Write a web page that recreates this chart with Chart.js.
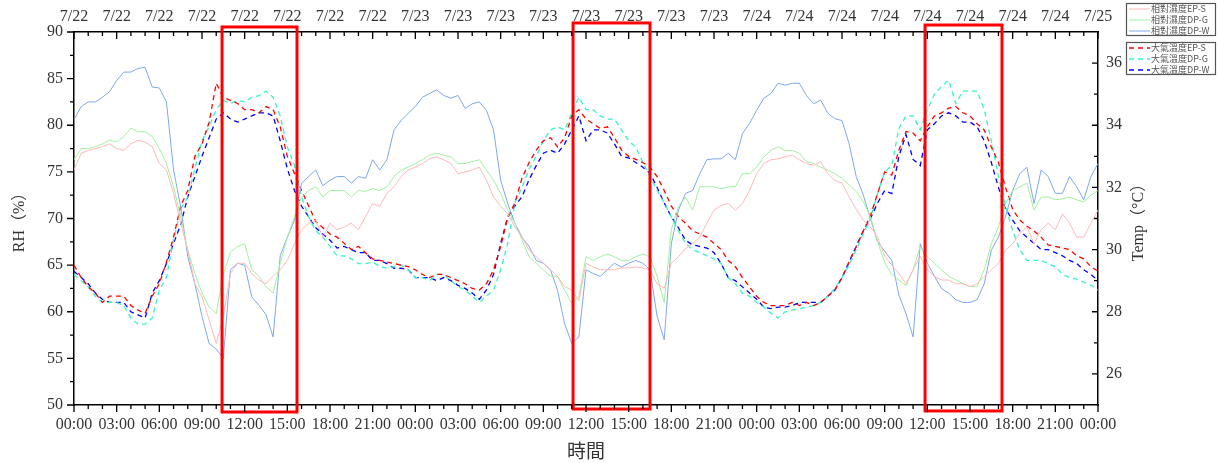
<!DOCTYPE html>
<html>
<head>
<meta charset="utf-8">
<title>RH / Temp</title>
<script src="https://cdn.jsdelivr.net/npm/chart.js@4.4.1/dist/chart.umd.min.js"></script>
<style>
  html, body { margin: 0; padding: 0; background: #fff; }
</style>
</head>
<body>
<canvas id="chart" width="1219" height="463"></canvas>
<script>
// hours since 7/22 00:00, one reading every 30 minutes
const hours = [];
for (let i = 0; i <= 144; i++) hours.push(i / 2);

const dateLabels = ["7/22","7/22","7/22","7/22","7/22","7/22","7/22","7/22",
  "7/23","7/23","7/23","7/23","7/23","7/23","7/23","7/23",
  "7/24","7/24","7/24","7/24","7/24","7/24","7/24","7/24","7/25"];
const timeLabels = ["00:00","03:00","06:00","09:00","12:00","15:00","18:00","21:00",
  "00:00","03:00","06:00","09:00","12:00","15:00","18:00","21:00",
  "00:00","03:00","06:00","09:00","12:00","15:00","18:00","21:00","00:00"];
const tempTicks = [26, 28, 30, 32, 34, 36];

// relative humidity (%)
const rhEPS = [75.2,77.0,77.3,77.5,77.7,78.0,77.5,77.3,78.0,78.4,78.2,77.7,75.9,75.2,72.7,69.5,66.6,63.0,61.6,59.1,56.6,59.5,64.1,65.2,65.2,64.1,63.4,63.0,63.8,64.5,65.5,67.3,68.8,69.5,69.8,68.0,69.5,68.8,
  69.1,69.5,68.8,70.2,71.6,71.3,72.7,73.4,74.5,75.2,75.5,75.9,76.4,76.6,76.3,75.9,74.8,75.0,75.2,75.5,74.1,72.3,71.3,70.5,69.1,68.0,66.6,65.9,65.2,64.5,63.8,62.7,62.3,61.2,65.2,
  64.8,64.5,64.5,64.5,64.7,64.7,64.8,64.7,64.5,63.0,62.5,65.2,65.9,66.8,67.3,68.0,69.5,70.9,71.4,71.6,70.9,71.6,73.0,74.8,75.9,76.3,76.4,76.6,76.8,76.3,75.9,75.7,76.1,74.8,74.1,
  73.8,72.3,71.0,69.8,69.1,68.0,66.0,65.0,64.1,63.0,64.5,
  65.9,64.5,63.8,63.4,63.4,63.0,63.0,62.7,63.0,63.8,64.5,65.2,66.6,67.3,68.4,69.1,67.3,68.8,69.5,68.8,70.5,69.5,68.0,68.0,69.5,70.9];
const rhDPG = [76.3,77.5,77.5,77.7,78.0,78.4,78.2,78.8,79.7,79.3,79.3,78.8,77.5,75.9,73.4,70.2,66.6,64.1,62.0,60.5,59.8,64.0,66.4,67.0,67.3,64.5,63.8,62.7,62.0,65.2,68.0,70.2,72.3,73.0,73.4,72.3,73.0,73.0,
  73.0,72.3,73.0,72.9,73.2,73.0,73.4,74.5,75.2,75.5,75.9,76.3,76.8,77.0,76.8,76.6,75.9,75.9,76.1,76.3,75.2,74.1,72.7,70.9,69.5,67.7,65.9,65.2,64.5,63.8,63.8,62.3,60.9,61.6,65.9,
  65.5,65.9,66.2,65.9,65.5,65.5,65.9,66.2,65.9,63.8,61.0,68.8,71.3,72.3,70.9,73.4,73.4,73.4,73.2,73.4,73.4,74.8,74.8,75.5,76.6,77.3,77.7,77.3,77.3,77.0,76.1,75.9,75.5,75.2,74.8,
  74.3,73.6,72.9,71.8,70.2,67.5,65.3,64.0,63.4,62.8,64.5,
  67.0,65.9,65.2,64.5,63.8,63.4,63.0,62.7,62.7,64.5,67.3,69.1,71.6,73.0,73.4,73.8,70.9,72.3,72.3,72.0,72.1,72.3,72.0,71.8,72.5,73.0];
const rhDPW = [80.6,82.0,82.5,82.5,83.0,83.6,84.8,85.7,85.7,86.1,86.2,84.1,84.0,82.5,75.2,71.3,65.9,63.0,59.5,56.6,56.0,55.0,64.5,65.2,65.0,61.6,60.7,59.7,57.3,66.0,68.0,69.8,73.8,74.5,75.2,73.5,74.1,74.5,
  74.5,73.8,74.5,74.3,76.3,75.2,76.3,79.5,80.5,81.3,82.0,83.0,83.4,83.8,83.2,82.9,83.2,81.8,82.3,82.5,81.6,79.5,74.1,71.6,69.5,68.0,67.0,65.5,65.2,64.5,62.3,58.7,56.6,57.3,64.5,
  64.1,63.8,64.5,65.2,64.8,65.2,65.5,65.2,64.5,59.5,57.0,67.3,70.9,72.7,73.0,74.8,76.3,76.4,76.4,77.0,76.3,79.1,80.2,81.6,82.9,83.4,84.5,84.3,84.5,84.5,83.2,82.3,82.7,81.3,80.7,
  80.5,78.0,74.5,72.5,70.0,67.5,66.5,65.5,61.8,59.8,57.3,
  67.3,65.2,63.8,62.5,62.0,61.3,61.0,61.0,61.3,63.0,66.6,68.0,70.2,73.0,74.8,75.5,71.6,75.2,74.5,72.7,72.7,74.5,73.4,72.0,74.5,75.9];

// air temperature (°C)
const tEPS = [29.5,29.1,28.8,28.6,28.3,28.5,28.5,28.5,28.2,28.05,27.95,28.5,28.9,29.6,30.4,31.4,31.9,33.0,33.4,34.1,35.35,34.9,34.8,34.7,34.5,34.5,34.4,34.6,34.5,33.95,33.0,32.45,31.9,31.4,30.9,30.7,30.5,30.4,
  30.2,30.0,30.1,29.9,29.7,29.65,29.6,29.55,29.5,29.45,29.35,29.2,29.1,29.2,29.2,29.1,29.0,28.9,28.75,28.7,28.9,29.35,30.1,31.05,31.5,32.3,32.8,33.2,33.5,33.6,33.3,33.6,34.3,34.5,34.2,
  34.05,33.9,33.95,33.6,33.2,33.0,32.9,32.8,32.65,32.35,31.9,31.4,31.05,30.85,30.6,30.5,30.4,30.2,30.0,29.65,29.45,29.1,28.8,28.5,28.3,28.2,28.2,28.2,28.3,28.2,28.3,28.2,28.3,28.5,28.7,
  29.1,29.6,30.1,30.6,31.1,31.8,32.5,32.4,33.2,33.8,33.75,
  33.5,33.95,34.3,34.4,34.55,34.6,34.4,34.3,34.05,33.85,33.3,32.8,32.0,31.3,30.95,30.75,30.6,30.4,30.15,30.1,30.05,30.0,29.8,29.7,29.45,29.3];
const tDPG = [29.2,29.0,28.8,28.5,28.3,28.3,28.3,28.2,27.8,27.6,27.6,27.8,28.7,29.1,30.3,31.3,31.7,32.6,33.5,33.95,34.5,34.8,34.7,34.8,34.75,34.9,34.95,35.1,34.9,34.3,33.3,32.7,31.7,31.05,30.6,30.4,30.1,29.8,
  29.8,29.7,29.55,29.55,29.6,29.45,29.4,29.45,29.5,29.35,29.1,29.1,29.0,29.2,29.2,29.0,28.8,28.7,28.5,28.3,28.5,28.7,29.35,30.2,31.5,32.0,32.6,33.0,33.5,33.85,33.95,33.85,34.4,34.9,34.5,
  34.5,34.3,34.2,34.2,33.85,33.5,33.3,32.8,32.35,31.9,31.5,31.05,30.6,30.2,30.0,29.9,29.8,29.7,29.55,29.1,28.9,28.6,28.5,28.3,28.15,27.95,27.8,28.0,28.05,28.1,28.15,28.2,28.3,28.5,28.75,
  29.1,29.5,30.0,30.5,31.0,31.8,32.5,32.7,33.9,34.3,34.3,
  33.85,34.5,35.0,35.25,35.45,34.7,35.1,35.1,35.1,34.5,33.5,32.35,31.4,30.6,30.0,29.65,29.65,29.65,29.55,29.45,29.2,29.1,29.05,28.95,28.85,28.7];
const tDPW = [29.3,29.1,28.9,28.6,28.4,28.3,28.3,28.3,28.0,27.9,27.8,28.6,29.0,29.55,30.2,30.8,31.7,32.35,33.0,33.6,34.2,34.4,34.2,34.1,34.2,34.3,34.4,34.4,34.3,33.5,32.6,31.9,31.4,31.05,30.7,30.5,30.3,30.05,
  30.1,30.0,29.9,29.9,29.65,29.65,29.55,29.4,29.4,29.35,29.1,29.1,29.1,29.0,29.1,29.0,28.85,28.75,28.6,28.4,28.7,29.2,30.2,31.05,31.4,31.7,32.25,32.7,33.1,33.2,33.1,33.4,33.85,34.3,33.5,
  33.85,33.85,33.75,33.4,33.0,32.95,32.8,32.65,32.45,32.0,31.5,31.05,30.7,30.3,30.15,30.1,30.05,29.9,29.55,29.1,29.0,28.8,28.6,28.4,28.15,28.1,28.15,28.15,28.2,28.3,28.3,28.3,28.3,28.5,28.7,
  29.1,29.6,30.1,30.6,31.0,31.5,31.9,31.8,33.0,33.7,32.9,
  32.7,33.85,34.05,34.3,34.4,34.3,34.1,34.1,33.95,33.5,32.8,32.0,31.3,30.95,30.6,30.4,30.2,30.0,30.0,29.9,29.8,29.65,29.55,29.35,29.2,29.0];

// highlighted periods (hours, RH units)
const boxStart = [10.41, 35.09, 59.84];
const boxEnd = [15.68, 40.5, 65.25];
const boxTop = [90.54, 90.97, 90.75];
const boxBottom = [49.25, 49.57, 49.36];

const serif = "'Liberation Serif', 'Noto Sans CJK TC', serif";
const cjk = "'Noto Sans CJK TC', sans-serif";

function pairs(values) {
  return hours.map((h, i) => ({x: h, y: values[i]}));
}

// tick marks: bottom/left point out, top/right point in
const axisTicks = {
  id: 'axisTicks',
  afterDraw(chart) {
    const ctx = chart.ctx;
    const {x, x2, y, y2} = chart.scales;
    ctx.save();
    ctx.strokeStyle = '#000';
    ctx.lineWidth = 1.3;
    ctx.beginPath();
    for (let h = 0; h <= 72; h++) {
      const px = x.getPixelForValue(h);
      const len = h % 3 === 0 ? 7 : 4;
      ctx.moveTo(px, x.top); ctx.lineTo(px, x.top + len);
      ctx.moveTo(px, x2.bottom); ctx.lineTo(px, x2.bottom + len);
    }
    for (let v = 50; v <= 90; v += 2.5) {
      const py = y.getPixelForValue(v);
      const len = v % 5 === 0 ? 7 : 4;
      ctx.moveTo(y.right, py); ctx.lineTo(y.right - len, py);
    }
    for (let v = 26; v <= 36; v++) {
      const py = y2.getPixelForValue(v);
      const len = v % 2 === 0 ? 6 : 4;
      ctx.moveTo(y2.left, py); ctx.lineTo(y2.left - len, py);
    }
    ctx.stroke();

    // right axis title, reading bottom to top
    ctx.fillStyle = '#333';
    ctx.font = '16px ' + serif;
    ctx.textAlign = 'center';
    ctx.textBaseline = 'middle';
    ctx.translate(1139, (y2.top + y2.bottom) / 2);
    ctx.rotate(-Math.PI / 2);
    ctx.fillText('Temp（°C）', 0, 0);
    ctx.restore();
  }
};

const redBoxes = {
  id: 'redBoxes',
  afterDatasetsDraw(chart) {
    const ctx = chart.ctx;
    const {x, y} = chart.scales;
    ctx.save();
    ctx.strokeStyle = '#ff0000';
    ctx.lineWidth = 3;
    boxStart.forEach((s, i) => {
      const left = x.getPixelForValue(s);
      const right = x.getPixelForValue(boxEnd[i]);
      const top = y.getPixelForValue(boxTop[i]);
      const bottom = y.getPixelForValue(boxBottom[i]);
      ctx.strokeRect(left, top, right - left, bottom - top);
    });
    ctx.restore();
  }
};

// two framed legends in the top right corner
const boxLegend = {
  id: 'boxLegend',
  afterDraw(chart) {
    const ctx = chart.ctx;
    const ds = chart.data.datasets;
    const groups = [{top: 3.5, items: [0, 1, 2]}, {top: 42.5, items: [3, 4, 5]}];
    ctx.save();
    ctx.font = '9px ' + cjk;
    ctx.textBaseline = 'middle';
    groups.forEach(g => {
      ctx.setLineDash([]);
      ctx.strokeStyle = '#555';
      ctx.lineWidth = 1.2;
      ctx.strokeRect(1126.5, g.top, 89, 32);
      g.items.forEach((di, k) => {
        const yy = g.top + 5.5 + k * 11;
        ctx.strokeStyle = ds[di].borderColor;
        ctx.lineWidth = ds[di].borderWidth;
        ctx.setLineDash(ds[di].borderDash || []);
        ctx.beginPath();
        ctx.moveTo(1129, yy);
        ctx.lineTo(1150, yy);
        ctx.stroke();
        ctx.setLineDash([]);
        ctx.fillStyle = '#555';
        ctx.fillText(ds[di].label, 1151, yy);
      });
    });
    ctx.restore();
  }
};

const tickFont = {family: serif, size: 16};

new Chart(document.getElementById('chart'), {
  type: 'line',
  data: {
    datasets: [
      {label: '相對濕度EP-S', data: pairs(rhEPS), yAxisID: 'y', borderColor: '#ffb8b8', borderWidth: 1},
      {label: '相對濕度DP-G', data: pairs(rhDPG), yAxisID: 'y', borderColor: '#9ef29e', borderWidth: 1},
      {label: '相對濕度DP-W', data: pairs(rhDPW), yAxisID: 'y', borderColor: '#7ea8ec', borderWidth: 1},
      {label: '大氣溫度EP-S', data: pairs(tEPS), yAxisID: 'y2', borderColor: '#ff0000', borderWidth: 1.3, borderDash: [5, 4]},
      {label: '大氣溫度DP-G', data: pairs(tDPG), yAxisID: 'y2', borderColor: '#33f5cc', borderWidth: 1.3, borderDash: [5, 4]},
      {label: '大氣溫度DP-W', data: pairs(tDPW), yAxisID: 'y2', borderColor: '#0000ff', borderWidth: 1.3, borderDash: [5, 4]}
    ]
  },
  options: {
    responsive: false,
    animation: false,
    devicePixelRatio: 1,
    layout: {padding: 0},
    elements: {point: {radius: 0}, line: {tension: 0}},
    plugins: {legend: {display: false}, tooltip: {enabled: false}},
    scales: {
      x: {
        type: 'linear', position: 'bottom', min: 0, max: 72,
        afterFit: s => { s.height = 58; },
        border: {display: true, color: '#000', width: 1.5},
        grid: {drawOnChartArea: false, color: 'rgba(0,0,0,0)', tickLength: 8},
        ticks: {stepSize: 3, autoSkip: false, maxRotation: 0, padding: 2, color: '#333', font: tickFont,
          callback: v => timeLabels[Math.round(v / 3)]},
        title: {display: true, text: '時間', color: '#333', font: {family: cjk, size: 19}, padding: {bottom: 1}}
      },
      x2: {
        type: 'linear', position: 'top', min: 0, max: 72,
        afterFit: s => { s.height = 32; },
        border: {display: true, color: '#000', width: 1.5},
        grid: {drawOnChartArea: false, color: 'rgba(0,0,0,0)', tickLength: 2},
        ticks: {stepSize: 3, autoSkip: false, maxRotation: 0, padding: 4, color: '#333', font: tickFont,
          callback: v => dateLabels[Math.round(v / 3)]}
      },
      y: {
        type: 'linear', position: 'left', min: 50, max: 90,
        afterFit: s => { s.width = 74; },
        border: {display: true, color: '#000', width: 1.5},
        grid: {drawOnChartArea: false, color: 'rgba(0,0,0,0)', tickLength: 8},
        ticks: {stepSize: 5, padding: 3, color: '#333', font: tickFont},
        title: {display: true, text: 'RH（%）', color: '#333', font: {family: serif, size: 16}, padding: {top: 10}}
      },
      y2: {
        type: 'linear', position: 'right', min: 25, max: 37,
        afterFit: s => { s.width = 121; },
        afterBuildTicks: s => { s.ticks = tempTicks.map(v => ({value: v})); },
        border: {display: true, color: '#000', width: 1.5},
        grid: {drawOnChartArea: false, color: 'rgba(0,0,0,0)', tickLength: 2},
        ticks: {padding: 6, color: '#333', font: tickFont}
      }
    }
  },
  plugins: [redBoxes, axisTicks, boxLegend]
});
</script>
</body>
</html>
